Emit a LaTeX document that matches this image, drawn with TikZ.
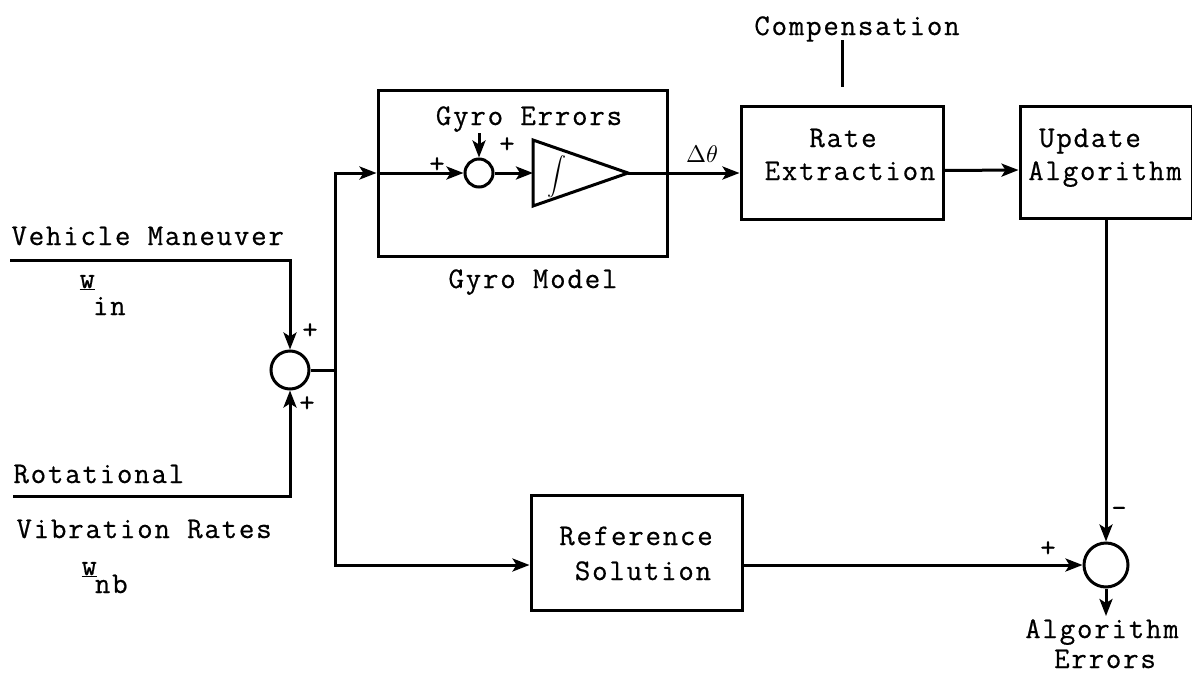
\documentclass[tikz,border=0pt]{standalone}
\usepackage{graphicx}
\usepackage{fontspec}
\setmonofont{Latin Modern Mono}[LetterSpace=6,FakeBold=0.6]
\usetikzlibrary{arrows.meta}
\begin{document}
\begin{tikzpicture}[x=1pt,y=-1pt,line width=3pt,
  txt/.style={font=\ttfamily\fontsize{30}{32}\selectfont,inner sep=0pt},
  sgn/.style={font=\ttfamily\fontsize{30}{32}\selectfont,inner sep=0pt},
  blk/.style={draw,rectangle,inner sep=0pt},
  sumc/.style={draw,circle,inner sep=0pt},
  arr/.style={-{Stealth[length=17pt,width=13pt,inset=4pt]}}]
\useasboundingbox (0,0) rectangle (1192,675);

% blocks
\node[blk,minimum width=289pt,minimum height=166pt] (gyro) at (522.5,173) {};
\node[blk,minimum width=202pt,minimum height=113pt] (rate) at (842,162.5) {};
\node[blk,minimum width=172pt,minimum height=112pt] (update) at (1106,162) {};
\node[blk,minimum width=211pt,minimum height=115pt] (ref) at (636.5,552.5) {};

% summing junctions
\node[sumc,minimum size=38pt] (sumL) at (290,370) {};
\node[sumc,minimum size=28pt] (sumI) at (479,173) {};
\node[sumc,minimum size=44pt] (sumR) at (1106,565) {};

% integrator
\coordinate (intIn) at (533,173);
\coordinate (intOut) at (628,173);
\draw[line join=miter] (533,140) -- (intOut) -- (533,206) -- cycle;
\node[inner sep=0pt,font=\fontsize{10}{12}\selectfont] (intg) at (557,177) {\scalebox{1.9}{$\displaystyle\int$}};

% texts
\node[txt,anchor=base] (comp) at (857,35) {Compensation};
\node[txt,anchor=base] (gyroErr) at (529,125) {Gyro Errors};
\node[txt,anchor=base] (gyroMod) at (533,288) {Gyro Model};
\node[txt,anchor=base] (rateT1) at (843,147) {Rate};
\node[txt,anchor=base] (rateT2) at (850,180) {Extraction};
\node[txt,anchor=base] (updT1) at (1090,147) {Update};
\node[txt,anchor=base] (updT2) at (1105,180) {Algorithm};
\node[txt,anchor=base] (refT1) at (636,545) {Reference};
\node[txt,anchor=base] (refT2) at (643,580) {Solution};
\node[txt,anchor=base] (errT1) at (1102,638) {Algorithm};
\node[txt,anchor=base] (errT2) at (1105,668) {Errors};
\node[txt,anchor=base west] (vmT) at (10,245) {Vehicle Maneuver};
\node[txt,anchor=base west] (rotT) at (12,483) {Rotational};
\node[txt,anchor=base west] (vibT) at (15,538) {Vibration Rates};
\node[txt,anchor=base west] (win) at (78,315) {\raisebox{27pt}{\underline{w}}\kern-2pt in};
\node[txt,anchor=base west] (wnb) at (80,593) {\raisebox{18pt}{\underline{w}}\kern-2pt nb};
\node[inner sep=0pt,anchor=base,font=\fontsize{10}{12}\selectfont] (dth) at (702,162) {\scalebox{2.4}{$\Delta\theta$}};

% signs
\node[sgn] (pI1) at (507,145) {+};
\node[sgn] (pI2) at (437,165) {+};
\node[sgn] (pL1) at (310,331) {+};
\node[sgn] (pL2) at (307,404) {+};
\node[sgn] (pR1) at (1048,549) {+};
\node[sgn] (mR) at (1119,512) {-};

% connectors
\coordinate (vmL) at (10,260);
\coordinate (rotL) at (13,496);
\coordinate (split) at (335,370);
\coordinate (geIn) at (479,133);
\coordinate (compTop) at (842,40);
\coordinate (compBot) at (842,87);
\coordinate (errOut) at (1106,616);

\draw[arr] (vmL) -| (sumL);
\draw[arr] (rotL) -| (sumL);
\draw (sumL.east) -- (split);
\draw[arr] (split) |- (gyro.west);
\draw[arr] (split) |- (ref.west |- sumR.west);
\draw[arr] (gyro.west) -- (sumI.west);
\draw[arr] (geIn) -- (sumI.north);
\draw[arr] (sumI.east) -- (intIn);
\draw[arr] (intOut) -- (intOut -| rate.west);
\draw (compTop) -- (compBot);
\draw[arr] ([yshift=-8pt]rate.east) -- ([yshift=-8pt]update.west);
\draw[arr] (update.south) -- (sumR.north);
\draw[arr] (ref.east |- sumR.west) -- (sumR.west);
\draw[arr] (sumR.south) -- (errOut);
\end{tikzpicture}
\end{document}
